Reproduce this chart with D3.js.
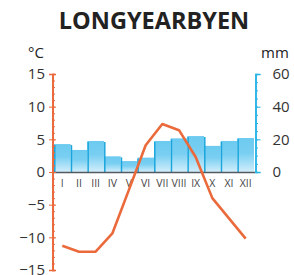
<!DOCTYPE html>
<meta charset='utf-8'>
<style>
body { margin: 0; background: #fff; font-family: 'Open Sans', sans-serif; }
.tick text { font-family: 'Open Sans', sans-serif; }
</style>
<svg width='294' height='275'></svg>
<script src='https://d3js.org/d3.v7.min.js'></script>
<script>

var months = ['I','II','III','IV','V','VI','VII','VIII','IX','X','XI','XII'];
var precip = [17.1, 13.5, 19, 9.6, 6.7, 8.8, 19, 20.6, 22, 16, 19, 20.8];   // mm
var temp = [-11.3, -12.2, -12.2, -9.4, -2.7, 4.1, 7.35, 6.4, 2.3, -4.0, -7.1, -10.2]; // °C
var tempTicks = [-15, -10, -5, 0, 5, 10, 15];
var precipTicks = [0, 20, 40, 60];

var svg = d3.select('svg'),
    orange = '#ea6a3c',
    blue = '#2bb4e6';

var x = d3.scaleBand().domain(months).range([54, 254]).padding(0);
var yT = d3.scaleLinear().domain([-15, 15]).range([270, 74]);
var yP = d3.scaleLinear().domain([0, 60]).range([172, 74]);

// gradient for the bars
var defs = svg.append('defs');
var grad = defs.append('linearGradient')
    .attr('id', 'barGrad')
    .attr('x1', 0).attr('y1', 0).attr('x2', 0).attr('y2', 1);
grad.append('stop').attr('offset', '0%').attr('stop-color', '#6ccaf0');
grad.append('stop').attr('offset', '45%').attr('stop-color', '#79cff2');
grad.append('stop').attr('offset', '100%').attr('stop-color', '#d2eefb');

// title + units
svg.append('text')
    .attr('x', 154).attr('y', 29)
    .attr('text-anchor', 'middle')
    .style('font-size', '23.5px')
    .style('font-weight', 'bold')
    .style('fill', '#222')
    .text('LONGYEARBYEN');

svg.append('text')
    .attr('x', 28).attr('y', 58)
    .style('font-size', '15px')
    .style('fill', '#222')
    .text('°C');

svg.append('text')
    .attr('x', 261).attr('y', 58)
    .style('font-size', '15px')
    .style('fill', '#222')
    .text('mm');

// bars
var bars = svg.append('g').attr('class', 'bars');
bars.selectAll('rect')
    .data(precip)
    .enter()
    .append('rect')
    .attr('x', function(d, i) { return x(months[i]); })
    .attr('y', function(d) { return yP(d); })
    .attr('width', x.bandwidth())
    .attr('height', function(d) { return yP(0) - yP(d); })
    .attr('fill', 'url(#barGrad)');

// darker edges between bars
bars.selectAll('line')
    .data(precip)
    .enter()
    .append('line')
    .attr('x1', function(d, i) { return x(months[i]) + 0.8; })
    .attr('x2', function(d, i) { return x(months[i]) + 0.8; })
    .attr('y1', function(d, i) { return yP(Math.max(d, i > 0 ? precip[i-1] : 0)) + 1; })
    .attr('y2', yP(0))
    .attr('stroke', '#1aa6dc')
    .attr('stroke-width', 1.5);

// baseline
svg.append('line')
    .attr('x1', 53).attr('x2', 255)
    .attr('y1', yT(0) + 0.5).attr('y2', yT(0) + 0.5)
    .attr('stroke', '#555a60')
    .attr('stroke-width', 1.6);

// left axis (temperature)
var leftMinor = svg.append('g')
    .attr('transform', 'translate(52.5,0)')
    .call(d3.axisRight(yT).tickValues(d3.range(-15, 16)).tickSize(2.5).tickFormat(''));
var leftMajor = svg.append('g')
    .attr('transform', 'translate(52.5,0)')
    .call(d3.axisRight(yT).tickValues(tempTicks).tickSize(3.5).tickFormat(''));
var leftLabels = svg.append('g')
    .attr('transform', 'translate(52.5,0)')
    .call(d3.axisLeft(yT).tickValues(tempTicks).tickSize(3.5).tickPadding(4)
        .tickFormat(function(d) { return d < 0 ? '\u2212' + Math.abs(d) : d; }));
[leftMinor, leftMajor, leftLabels].forEach(function(g) {
    g.select('.domain').attr('stroke', orange).attr('stroke-width', 1.6);
    g.selectAll('.tick line').attr('stroke', orange).attr('stroke-width', 1);
});
leftLabels.selectAll('.tick text')
    .style('font-size', '15px')
    .attr('fill', '#333');

// right axis (precipitation)
var rightMinor = svg.append('g')
    .attr('transform', 'translate(255.5,0)')
    .call(d3.axisRight(yP).tickValues(d3.range(0, 61, 5)).tickSize(2.5).tickFormat(''));
var rightMajor = svg.append('g')
    .attr('transform', 'translate(255.5,0)')
    .call(d3.axisRight(yP).tickValues(precipTicks).tickSize(5).tickPadding(12));
[rightMinor, rightMajor].forEach(function(g) {
    g.select('.domain').attr('stroke', blue).attr('stroke-width', 1.6);
    g.selectAll('.tick line').attr('stroke', blue).attr('stroke-width', 1);
});
rightMajor.selectAll('.tick text')
    .style('font-size', '15px')
    .attr('fill', '#333');

// month labels
svg.append('g')
    .selectAll('text')
    .data(months)
    .enter()
    .append('text')
    .attr('x', function(d) { return x(d) + x.bandwidth() / 2; })
    .attr('y', 187)
    .attr('text-anchor', 'middle')
    .style('font-size', '10.5px')
    .style('fill', '#444')
    .text(function(d) { return d; });

// temperature line
var line = d3.line()
    .x(function(d, i) { return x(months[i]) + x.bandwidth() / 2; })
    .y(function(d) { return yT(d); });

svg.append('path')
    .datum(temp)
    .attr('d', line)
    .attr('fill', 'none')
    .attr('stroke', orange)
    .attr('stroke-width', 2.6)
    .attr('stroke-linejoin', 'round');

</script>
